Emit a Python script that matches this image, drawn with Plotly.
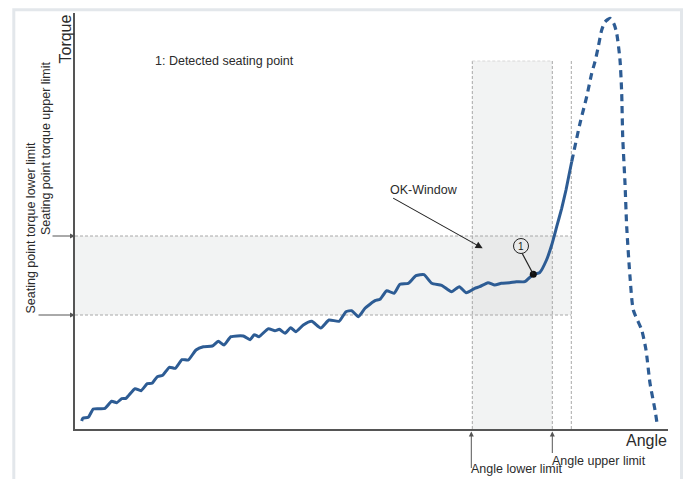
import plotly.graph_objects as go

# ---------------- data (angle, torque in arbitrary units) ----------------
angle_solid = [1.34, 1.54, 2.66, 3.66, 5.0, 6.0, 7.34, 8.34, 9.34, 10.2, 12.0, 13.2, 14.46, 15.4,
               16.46, 17.54, 18.86, 20.06, 21.4, 22.66, 24.2, 25.66, 27.46, 28.66, 29.8, 31.2,
               33.66, 35.0, 35.86, 36.8, 38.66, 40.0, 40.86, 42.0, 43.14, 44.14, 45.66, 47.34,
               49.14, 50.8, 52.8, 54.2, 55.34, 56.66, 58.0, 60.0, 61.0, 62.34, 63.8, 65.0, 66.66,
               68.2, 69.8, 71.34, 73.34, 75.3, 76.86, 78.26, 79.94, 80.94, 82.6, 83.94, 85.26,
               86.94, 88.26, 89.94, 91.66, 92.9, 94.3, 95.34, 96.34, 97.34, 98.2, 98.8, 99.34]
torque_solid = [0.8, 1.07, 1.17, 2.0, 2.03, 2.07, 2.77, 2.63, 3.03, 3.07, 4.03, 3.83, 4.53, 4.57,
                5.23, 5.37, 6.17, 6.07, 6.93, 6.9, 7.9, 8.23, 8.3, 8.77, 8.4, 9.23,
                9.3, 8.93, 9.43, 9.23, 10.03, 9.83, 9.97, 9.57, 10.13, 9.73, 10.4, 10.77,
                10.1, 10.9, 10.77, 11.73, 11.83, 11.23, 12.07, 12.83, 12.97, 13.83, 13.57, 14.47, 14.57,
                15.33, 15.43, 14.57, 14.37, 13.73, 14.23, 13.63, 14.07, 14.23, 14.63, 14.4, 14.57,
                14.63, 14.73, 14.73, 15.47, 15.62, 16.9, 18.4, 20.23, 22.07, 23.9, 25.4, 26.73]

angle_dashed = [99.34, 101.0, 102.34, 103.34, 104.0, 104.66, 105.34, 106.0, 107.0, 107.8, 108.34,
                109.0, 109.34, 109.54, 110.0, 110.34, 111.0, 111.66, 113.34, 114.2, 115.0, 116.0, 116.46]
torque_dashed = [26.73, 30.57, 33.23, 35.57, 36.73, 38.23, 39.9, 40.7, 41.07, 40.5, 39.57,
                 36.9, 33.57, 29.23, 24.57, 20.23, 15.23, 11.9, 9.9, 7.9, 4.57, 1.9, 0.4]

seating_point = (91.66, 15.47)
torque_lower_limit = 11.4
torque_upper_limit = 19.3
angle_lower_limit = 79.46
angle_upper_limit = 95.46
angle_end_limit = 99.26
window_top = 36.8

X_MAX, Y_MAX = 118.6, 41.6
L, T, W, H = 75, 13, 593, 416   # plot area in pixels


def px(xp):
    return (xp - L) / W


def py(yp):
    return (T + H - yp) / H


CURVE = "#2d5c94"
TXT = "#2b2b2b"
DASHC = "#a8a8a8"
FONT = "Arial, Liberation Sans, sans-serif"

fig = go.Figure()

fig.add_trace(go.Scatter(x=angle_solid, y=torque_solid, mode="lines",
                         line=dict(color=CURVE, width=3, shape="spline", smoothing=0.5),
                         hoverinfo="skip", showlegend=False))
fig.add_trace(go.Scatter(x=angle_dashed, y=torque_dashed, mode="lines",
                         line=dict(color=CURVE, width=3.2, dash="7px,5px", shape="spline", smoothing=0.6),
                         hoverinfo="skip", showlegend=False))
fig.add_trace(go.Scatter(x=[seating_point[0]], y=[seating_point[1]], mode="markers",
                         marker=dict(color="#111", size=7), hoverinfo="skip", showlegend=False))

shapes = []
band_fill = "rgba(212,214,214,0.30)"
shapes.append(dict(type="rect", xref="x", yref="y", x0=0, x1=angle_end_limit,
                   y0=torque_lower_limit, y1=torque_upper_limit,
                   fillcolor=band_fill, line=dict(width=0), layer="below"))
shapes.append(dict(type="rect", xref="x", yref="y", x0=angle_lower_limit, x1=angle_upper_limit,
                   y0=0, y1=window_top, fillcolor=band_fill, line=dict(width=0), layer="below"))
dl = dict(color=DASHC, width=1, dash="3px,2px")
for yv in (torque_lower_limit, torque_upper_limit):
    shapes.append(dict(type="line", xref="x", yref="y", x0=0, x1=angle_end_limit, y0=yv, y1=yv,
                       line=dl, layer="below"))
for xv in (angle_lower_limit, angle_upper_limit):
    shapes.append(dict(type="line", xref="x", yref="y", x0=xv, x1=xv, y0=0, y1=window_top,
                       line=dl, layer="below"))
shapes.append(dict(type="line", xref="x", yref="y", x0=angle_lower_limit, x1=angle_upper_limit,
                   y0=window_top, y1=window_top, line=dict(color="#d8d8d8", width=1, dash="3px,2px"),
                   layer="below"))
shapes.append(dict(type="line", xref="x", yref="y", x0=angle_end_limit, x1=angle_end_limit,
                   y0=0, y1=window_top + 0.2, line=dl, layer="below"))

# circle marker "1"
cx, cy = 89.2, 18.3
shapes.append(dict(type="circle", xref="x", yref="y", x0=cx - 1.5, x1=cx + 1.5,
                   y0=cy - 0.75, y1=cy + 0.75, line=dict(color="#222", width=1),
                   fillcolor="rgba(255,255,255,0)"))
shapes.append(dict(type="line", xref="x", yref="y", x0=cx + 0.25, y0=cy - 0.75,
                   x1=seating_point[0], y1=seating_point[1], line=dict(color="#222", width=1.2)))

# page frame
shapes.append(dict(type="rect", xref="paper", yref="paper", x0=px(13.8), x1=px(681.5),
                   y0=py(500), y1=py(9.7), line=dict(color="#e3e7eb", width=3),
                   fillcolor="rgba(0,0,0,0)", layer="below"))

ann = []
ann.append(dict(x=cx, y=cy, xref="x", yref="y", text="1", showarrow=False,
                font=dict(size=10, color="#222", family=FONT)))
ann.append(dict(x=px(153), y=py(61), xref="paper", yref="paper", text="1: Detected seating point",
                showarrow=False, xanchor="left", yanchor="middle",
                font=dict(size=12.5, color=TXT, family=FONT)))
ann.append(dict(x=px(388), y=py(190), xref="paper", yref="paper", text="OK-Window",
                showarrow=False, xanchor="left", yanchor="middle",
                font=dict(size=12.5, color=TXT, family=FONT)))
ann.append(dict(x=px(482.7), y=py(248.3), xref="paper", yref="paper", text="",
                showarrow=True, ax=-91, ay=-51, arrowhead=2, arrowsize=1.3, arrowwidth=1.1,
                arrowcolor="#222"))
ann.append(dict(x=px(65), y=py(13), xref="paper", yref="paper", text="Torque", textangle=-90,
                showarrow=False, xanchor="center", yanchor="top",
                font=dict(size=16, color=TXT, family=FONT)))
ann.append(dict(x=px(669), y=py(440), xref="paper", yref="paper", text="Angle",
                showarrow=False, xanchor="right", yanchor="middle",
                font=dict(size=16, color=TXT, family=FONT)))
ann.append(dict(x=px(550), y=py(461), xref="paper", yref="paper", text="Angle upper limit",
                showarrow=False, xanchor="left", yanchor="middle",
                font=dict(size=12.5, color=TXT, family=FONT)))
ann.append(dict(x=px(469), y=py(478), xref="paper", yref="paper", text="Angle lower limit",
                showarrow=False, xanchor="left", yanchor="bottom",
                font=dict(size=12.5, color=TXT, family=FONT)))
ann.append(dict(x=px(30), y=py(316), xref="paper", yref="paper",
                text="Seating point torque lower limit", textangle=-90,
                showarrow=False, xanchor="center", yanchor="bottom",
                font=dict(size=12.5, color=TXT, family=FONT)))
ann.append(dict(x=px(46), y=py(237), xref="paper", yref="paper",
                text="Seating point torque upper limit", textangle=-90,
                showarrow=False, xanchor="center", yanchor="bottom",
                font=dict(size=12.5, color=TXT, family=FONT)))
# arrows to limits
arrow_kw = dict(xref="paper", yref="paper", text="", showarrow=True, arrowhead=2,
                arrowsize=1, arrowwidth=1, arrowcolor="#555")
ann.append(dict(x=px(75), y=py(315), ax=-38, ay=0, **arrow_kw))
ann.append(dict(x=px(75), y=py(236), ax=-24, ay=0, **arrow_kw))
ann.append(dict(x=px(471.3), y=py(431.5), ax=0, ay=38, **arrow_kw))
ann.append(dict(x=px(552.3), y=py(431.5), ax=0, ay=23, **arrow_kw))

fig.update_layout(
    width=686, height=479,
    margin=dict(l=L, r=686 - L - W, t=T, b=479 - T - H),
    paper_bgcolor="white", plot_bgcolor="white",
    shapes=shapes, annotations=ann,
    xaxis=dict(range=[0, X_MAX], showgrid=False, zeroline=False, showticklabels=False,
               ticks="", showline=True, linecolor="#555", linewidth=1.5, fixedrange=True),
    yaxis=dict(range=[0, Y_MAX], showgrid=False, zeroline=False, showticklabels=False,
               ticks="", showline=True, linecolor="#555", linewidth=1.5, fixedrange=True),
    font=dict(family=FONT),
)

fig.write_html("out.html", config={"displayModeBar": False},
               post_script="document.body.style.margin='0';document.body.style.overflow='hidden';")
